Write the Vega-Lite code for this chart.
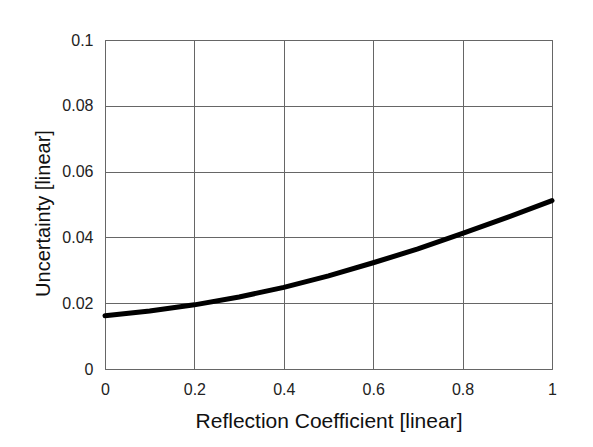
{
  "$schema": "https://vega.github.io/schema/vega-lite/v6.json",
  "autosize": {"type": "none"},
  "width": 447,
  "height": 329,
  "padding": {"left": 105, "top": 40, "right": 41, "bottom": 78},
  "background": "white",
  "data": {"values": [
    {"r": 0.0, "u": 0.0162},
    {"r": 0.1, "u": 0.0176},
    {"r": 0.2, "u": 0.0195},
    {"r": 0.3, "u": 0.0219},
    {"r": 0.4, "u": 0.0248},
    {"r": 0.5, "u": 0.0283},
    {"r": 0.6, "u": 0.0323},
    {"r": 0.7, "u": 0.0365},
    {"r": 0.8, "u": 0.0412},
    {"r": 0.9, "u": 0.0461},
    {"r": 1.0, "u": 0.0512}
  ]},
  "mark": {"type": "line", "color": "black", "strokeWidth": 5, "strokeCap": "round"},
  "encoding": {
    "x": {"field": "r", "type": "quantitative", "scale": {"domain": [0, 1], "nice": false},
      "axis": {"title": "Reflection Coefficient [linear]", "values": [0, 0.2, 0.4, 0.6, 0.8, 1], "format": ".1~f", "grid": true, "ticks": false, "domain": false, "labelFlush": false, "labelPadding": 12, "titlePadding": 13}},
    "y": {"field": "u", "type": "quantitative", "scale": {"domain": [0, 0.1], "nice": false},
      "axis": {"title": "Uncertainty [linear]", "values": [0, 0.02, 0.04, 0.06, 0.08, 0.1], "format": ".2~f", "grid": true, "ticks": false, "domain": false, "labelFlush": false, "labelPadding": 12, "titlePadding": 8, "titleFontSize": 20, "titleY": 173}}
  },
  "config": {
    "view": {"stroke": "#555555", "strokeWidth": 1},
    "axis": {"gridColor": "#666666", "gridOpacity": 1, "gridWidth": 1, "labelFont": "Liberation Sans", "labelFontSize": 16, "labelColor": "#222222", "titleFont": "Liberation Sans", "titleFontSize": 21, "titleFontWeight": "normal", "titleColor": "#111111"}
  }
}
